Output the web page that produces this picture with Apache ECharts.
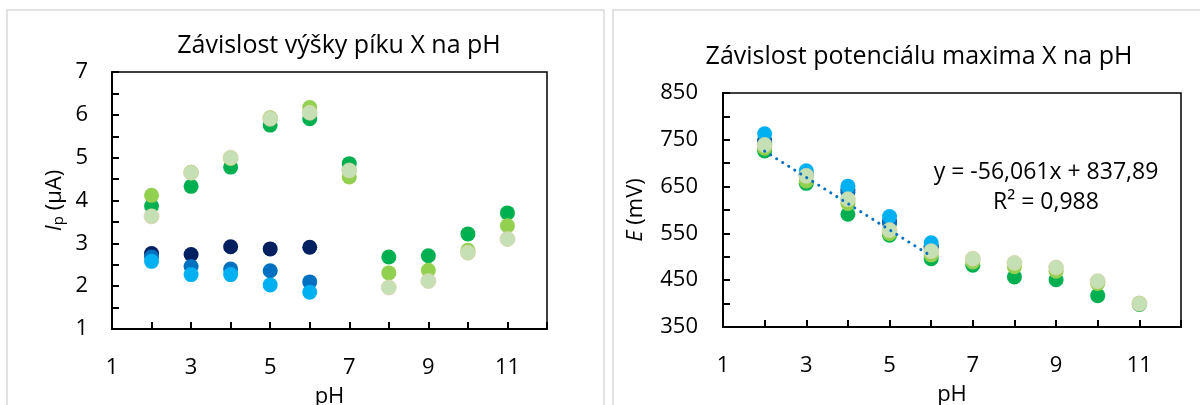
<!DOCTYPE html>
<html>
<head>
<meta charset="utf-8">
<script src="https://cdn.jsdelivr.net/npm/echarts@6/dist/echarts.min.js"></script>
<style>
html,body{margin:0;padding:0;background:#fff;}
#c{width:1200px;height:405px;}
</style>
</head>
<body>
<div id="c"></div>
<script>
// ---- data ----
const pHBlue = [2, 3, 4, 5, 6];
const pHAll = [2, 3, 4, 5, 6, 7, 8, 9, 10, 11];

// Peak height Ip (µA)
const navyI = [2.76, 2.74, 2.92, 2.87, 2.91];
const midBlueI = [2.68, 2.46, 2.40, 2.36, 2.10];
const lightBlueI = [2.58, 2.27, 2.27, 2.03, 1.86];
const greenI = [3.87, 4.33, 4.78, 5.76, 5.91, 4.86, 2.68, 2.71, 3.22, 3.71];
const lightGreenI = [4.12, 4.66, 4.98, 5.93, 6.17, 4.55, 2.31, 2.37, 2.84, 3.41];
const paleI = [3.63, 4.65, 5.00, 5.91, 6.05, 4.70, 1.97, 2.12, 2.78, 3.10];

// Potential E (mV)
const navyE = [748, 676, 643, 575, 522];
const midBlueE = [745, 674, 638, 572, 520];
const lightBlueE = [763, 684, 651, 586, 530];
const greenE = [726, 657, 591, 546, 496, 482, 457, 451, 417, 398];
const lightGreenE = [732, 662, 614, 550, 504, 489, 479, 469, 443, 401];
const paleE = [739, 673, 623, 557, 512, 496, 487, 477, 448, 400];

// trendline (mid blue series, pH 2-6)
const trendSlope = -56.061;
const trendIntercept = 837.89;
const trendRange = [2, 6];
const trendText1 = 'y = -56,061x + 837,89';
const trendText2 = 'R² = 0,988';

const titleLeft = 'Závislost výšky píku X na pH';
const titleRight = 'Závislost potenciálu maxima X na pH';
const xTickLabels = [1, 3, 5, 7, 9, 11];
const yTickLabelsI = [1, 2, 3, 4, 5, 6, 7];
const yTickLabelsE = [350, 450, 550, 650, 750, 850];

// ---- styles ----
const FONT = '"Open Sans", Lato, sans-serif';
const TICK = 22;
const C = {
  navy: '#002060', mid: '#0070C0', light: '#00B0F0',
  green: '#00B050', lgreen: '#92D050', pale: '#C5E0B4'
};
const pairs = (xs, ys) => ys.map((v, i) => [xs[i], v]);

function scatter(name, xs, ys, color, gi, pale) {
  return {
    name, type: 'scatter', xAxisIndex: gi, yAxisIndex: gi,
    data: pairs(xs, ys), symbol: 'circle', symbolSize: 15,
    itemStyle: { color, opacity: 1, borderColor: pale ? '#d8d3a6' : color, borderWidth: pale ? 0.8 : 0 },
    emphasis: { disabled: true }, animation: false
  };
}

function xAxis(gi) {
  return {
    gridIndex: gi, type: 'value', min: 1, max: 12, interval: 1,
    axisLine: { show: true, lineStyle: { color: '#000', width: 2 } },
    axisTick: { show: true, inside: true, length: 7, lineStyle: { color: '#000', width: 2 } },
    axisLabel: {
      fontFamily: FONT, fontSize: TICK, color: '#000', margin: 28,
      formatter: v => xTickLabels.includes(v) ? String(v) : ''
    },
    splitLine: { show: false },
    name: 'pH', nameLocation: 'middle', nameGap: 57,
    nameTextStyle: { fontFamily: FONT, fontSize: TICK, color: '#000' }
  };
}

const option = {
  backgroundColor: '#fff',
  animation: false,
  title: [
    { text: titleLeft, left: 334, top: 28, textAlign: 'center',
      textStyle: { fontFamily: FONT, fontSize: 25, fontWeight: 'normal', color: '#000' } },
    { text: titleRight, left: 914, top: 39, textAlign: 'center',
      textStyle: { fontFamily: FONT, fontSize: 25, fontWeight: 'normal', color: '#000' } }
  ],
  grid: [
    { left: 112, top: 72, width: 435, height: 257, outerBoundsMode: 'none', containLabel: false, show: true, borderColor: '#000', borderWidth: 1.5, backgroundColor: 'transparent' },
    { left: 723, top: 93, width: 458, height: 234, outerBoundsMode: 'none', containLabel: false, show: true, borderColor: '#000', borderWidth: 1.5, backgroundColor: 'transparent' }
  ],
  xAxis: [xAxis(0), xAxis(1)],
  yAxis: [
    {
      gridIndex: 0, type: 'value', min: 1, max: 7, interval: 0.5,
      axisLine: { show: true, lineStyle: { color: '#000', width: 2 } },
      axisTick: { show: true, inside: true, length: 7, lineStyle: { color: '#000', width: 2 } },
      axisLabel: {
        fontFamily: FONT, fontSize: TICK, color: '#000', margin: 24,
        formatter: v => yTickLabelsI.includes(v) ? String(v) : ''
      },
      splitLine: { show: false },
      name: '{it|I}{sub|p}{n| (µA)}', nameLocation: 'middle', nameGap: 46,
      nameTextStyle: {
        fontFamily: FONT, fontSize: TICK, color: '#000',
        rich: {
          it: { fontFamily: FONT, fontSize: TICK, fontStyle: 'italic', color: '#000' },
          sub: { fontFamily: FONT, fontSize: 15, color: '#000', verticalAlign: 'bottom', padding: [8, 0, 0, 0] },
          n: { fontFamily: FONT, fontSize: TICK, color: '#000' }
        }
      }
    },
    {
      gridIndex: 1, type: 'value', min: 350, max: 850, interval: 50,
      axisLine: { show: true, lineStyle: { color: '#000', width: 2 } },
      axisTick: { show: true, inside: true, length: 7, lineStyle: { color: '#000', width: 2 } },
      axisLabel: {
        fontFamily: FONT, fontSize: TICK, color: '#000', margin: 25,
        formatter: v => yTickLabelsE.includes(v) ? String(v) : ''
      },
      splitLine: { show: false },
      name: '{it|E}{n| (mV)}', nameLocation: 'middle', nameGap: 76,
      nameTextStyle: {
        fontFamily: FONT, fontSize: TICK, color: '#000',
        rich: {
          it: { fontFamily: FONT, fontSize: TICK, fontStyle: 'italic', color: '#000' },
          n: { fontFamily: FONT, fontSize: TICK, color: '#000' }
        }
      }
    }
  ],
  graphic: [
    { type: 'rect', shape: { x: 7, y: 10, width: 597, height: 420 }, style: { fill: 'none', stroke: '#d9d9d9', lineWidth: 1.5 }, z: -1, silent: true },
    { type: 'rect', shape: { x: 613, y: 10, width: 620, height: 420 }, style: { fill: 'none', stroke: '#d9d9d9', lineWidth: 1.5 }, z: -1, silent: true },
    { type: 'text', x: 1046, y: 172, style: { text: trendText1, fontFamily: FONT, fontSize: 23, fill: '#000', textAlign: 'center', textVerticalAlign: 'middle' }, z: 100 },
    { type: 'text', x: 1046, y: 202, style: { text: trendText2, fontFamily: FONT, fontSize: 23, fill: '#000', textAlign: 'center', textVerticalAlign: 'middle' }, z: 100 }
  ],
  series: [
    scatter('navyI', pHBlue, navyI, C.navy, 0),
    scatter('midI', pHBlue, midBlueI, C.mid, 0),
    scatter('lightI', pHBlue, lightBlueI, C.light, 0),
    scatter('greenI', pHAll, greenI, C.green, 0),
    scatter('lgreenI', pHAll, lightGreenI, C.lgreen, 0),
    scatter('paleI', pHAll, paleI, C.pale, 0, true),
    scatter('navyE', pHBlue, navyE, C.navy, 1),
    scatter('midE', pHBlue, midBlueE, C.mid, 1),
    scatter('lightE', pHBlue, lightBlueE, C.light, 1),
    scatter('greenE', pHAll, greenE, C.green, 1),
    scatter('lgreenE', pHAll, lightGreenE, C.lgreen, 1),
    scatter('paleE', pHAll, paleE, C.pale, 1, true),
    {
      name: 'trend', type: 'line', xAxisIndex: 1, yAxisIndex: 1, z: 5,
      data: trendRange.map(x => [x, trendSlope * x + trendIntercept]),
      symbol: 'none', silent: true, animation: false,
      lineStyle: { color: C.mid, width: 3, type: [0.1, 7], cap: 'round' }
    }
  ]
};

echarts.init(document.getElementById('c'), null, { renderer: 'canvas' }).setOption(option);
</script>
</body>
</html>
